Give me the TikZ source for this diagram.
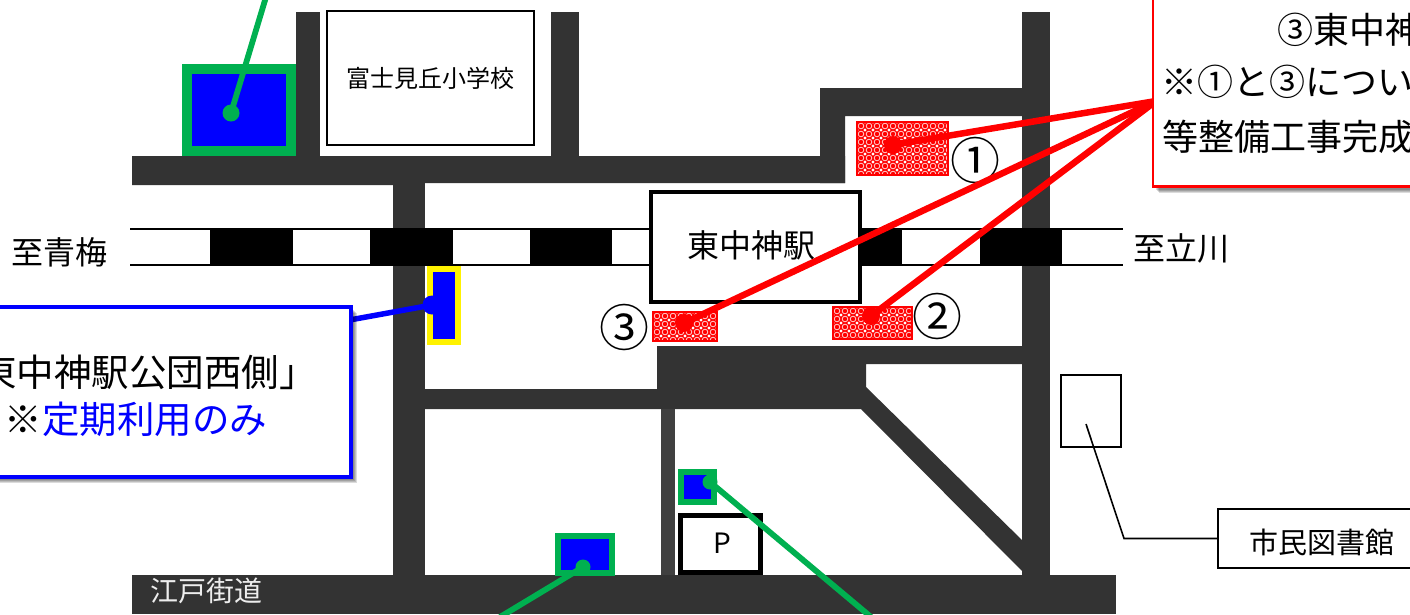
\documentclass[tikz,border=0pt]{standalone}
\usepackage{fontspec}
\setmainfont{Noto Sans CJK JP}
\usetikzlibrary{shadows}
\definecolor{road}{HTML}{333333}
\definecolor{thinroad}{HTML}{404040}
\definecolor{mapgreen}{HTML}{00B050}
\tikzset{
  x=1pt,y=-1pt,
  roadfill/.style={fill=road},
  railblock/.style={fill=black},
  dot/.style={circle,inner sep=0pt,minimum size=#1},
  greenlink/.style={draw=mapgreen,line width=5.8pt},
  redlink/.style={draw=red,line width=6.5pt},
  num/.style={font=\fontsize{50}{50}\selectfont,inner sep=0pt},
  plainbox/.style={draw=black,fill=white,inner sep=0pt},
  softlayer/.style={general shadow={shadow xshift=#1,shadow yshift=-#1,fill=black,opacity=.14}},
  callout/.style={fill=white,inner sep=0pt,softlayer=6pt,softlayer=5pt,softlayer=4pt,softlayer=3pt},
}
\newcommand{\hatched}[5]{%
  \begin{scope}
  \clip (#1,#2) rectangle (#3,#4);
  \fill[red] (#1,#2) rectangle (#3,#4);
  \foreach \px in {#1,\the\numexpr#1+8\relax,...,#3}{
    \foreach \py in {#2,\the\numexpr#2+8\relax,...,#4}{
      \draw[white!75!red,line width=.9pt] (\px+4,\py+4) circle[radius=2.8pt];
      \fill[white] (\px,\py) circle[radius=1.6pt];
    }
  }
  \end{scope}
  \node[draw=red,line width=1.2pt,inner sep=0pt,minimum width=#3pt-#1pt,minimum height=#4pt-#2pt] (#5) at ({(#1+#3)/2},{(#2+#4)/2}) {};
}
\begin{document}
\begin{tikzpicture}
\useasboundingbox (0,0) rectangle (1410,614);
\clip (0,0) rectangle (1410,614);
\fill[white] (0,0) rectangle (1410,614);
% roads
\fill[roadfill] (132,156) -- (845,156) -- (845,183) -- (425,183) -- (393,185) -- (132,185) -- cycle;
\fill[roadfill] (296,12) rectangle (320,160);
\fill[roadfill] (551,12) rectangle (579,160);
\fill[roadfill] (820,88) -- (1022,88) -- (1022,116) -- (845,116) -- (845,183) -- (820,183) -- cycle;
\fill[roadfill] (1022,12) rectangle (1050,228);
\fill[roadfill] (1022,264) rectangle (1050,576);
\fill[roadfill] (393,183) rectangle (425,230);
\fill[roadfill] (393,264) rectangle (425,576);
\fill[roadfill] (657,346) -- (1024,346) -- (1024,364) -- (866,364) -- (866,387) -- (1024,542) -- (1050,575) -- (1026,575) -- (861,409) -- (425,409) -- (425,389) -- (657,389) -- cycle;
\fill[thinroad] (661,409) rectangle (675,576);
\fill[roadfill] (132,575) rectangle (1116,614);
% railway
\draw[line width=2.5pt] (130,229) -- (1123,229);
\draw[line width=2.5pt] (130,265) -- (1123,265);
\fill[railblock] (210,228) rectangle (293,266);
\fill[railblock] (370,228) rectangle (453,266);
\fill[railblock] (530,228) rectangle (612,266);
\fill[railblock] (690,228) rectangle (772,266);
\fill[railblock] (855,228) rectangle (902,266);
\fill[railblock] (980,228) rectangle (1062,266);
% labels and buildings
\node[inner sep=0pt,font=\fontsize{32}{32}\selectfont] (omeLabel) at (60,252) {至青梅};
\node[inner sep=0pt,font=\fontsize{32}{32}\selectfont] (tachikawaLabel) at (1181.5,248) {至立川};
\node[plainbox,line width=2pt,minimum width=207pt,minimum height=134pt,font=\fontsize{24}{24}\selectfont] (school) at (430.5,78) {富士見丘小学校};
\node[plainbox,line width=4pt,minimum width=209pt,minimum height=110pt] (station) at (755.5,247) {};
\node[inner sep=0pt,font=\fontsize{32}{32}\selectfont] (stationLabel) at (751,245) {東中神駅};
\node[plainbox,line width=4.5pt,minimum width=80pt,minimum height=57pt] (parking) at (720.5,544) {};
\node[inner sep=0pt,font=\fontsize{28}{28}\selectfont] (parkingLabel) at (722,543) {P};
\node[inner sep=0pt,text=white!93!black,font=\fontsize{28}{28}\selectfont] (roadLabel) at (206,591) {江戸街道};
\node[plainbox,line width=2.2pt,minimum width=60pt,minimum height=72pt] (library) at (1091,411) {};
\node[plainbox,line width=2pt,minimum width=230pt,minimum height=59pt] (libBox) at (1333,538.5) {};
\node[inner sep=0pt,font=\fontsize{29}{29}\selectfont] (libLabel) at (1322,542) {市民図書館};
\coordinate (libTip) at (1086,424);
\coordinate (libBend) at (1124,538.5);
\draw[line width=1.6pt] (libTip) -- (libBend) -- (libBox.west);
% numbered marks
\hatched{857}{122}{948}{175}{areaOne}
\hatched{833}{307}{912}{339}{areaTwo}
\hatched{653}{312}{717}{341}{areaThree}
\node[num] (numOne) at (975,160) {①};
\node[num] (numTwo) at (937,316) {②};
\node[num] (numThree) at (624,327) {③};
% bus stops
\draw[mapgreen,line width=10pt,fill=blue] (187,69) rectangle (291,151);
\draw[mapgreen,line width=6pt,fill=blue] (680.5,472) rectangle (714,502);
\draw[mapgreen,line width=6pt,fill=blue] (558,536) rectangle (612,573);
\draw[yellow,line width=6pt,fill=blue] (430,269) rectangle (458,342);
% dots
\node[dot=17pt,fill=mapgreen] (dotA) at (231,113) {};
\node[dot=15pt,fill=mapgreen] (dotB) at (710,482) {};
\node[dot=15pt,fill=mapgreen] (dotC) at (583,567) {};
\node[dot=19pt,fill=blue] (dotBlue) at (432,305) {};
\node[dot=18pt,fill=red] (dotOne) at (893,145) {};
\node[dot=18pt,fill=red] (dotTwo) at (871,316) {};
\node[dot=18pt,fill=red] (dotThree) at (684,323) {};
% links
\coordinate (greenTopEnd) at (266,-3);
\coordinate (greenRightEnd) at (871,617);
\coordinate (greenLeftEnd) at (500,617);
\coordinate (blueTail) at (300,329);
\coordinate (redHub) at (1156,101);
\draw[greenlink] (dotA.center) -- (greenTopEnd);
\draw[greenlink] (dotB.center) -- (greenRightEnd);
\draw[greenlink] (dotC.center) -- (greenLeftEnd);
\draw[draw=blue,line width=5.5pt] (dotBlue.center) -- (blueTail);
\draw[redlink] (dotOne.center) -- (redHub);
\draw[redlink] (dotTwo.center) -- (redHub);
\draw[redlink] (dotThree.center) -- (redHub);
% callouts
\node[callout,draw=red,line width=2.5pt,minimum width=300pt,minimum height=237pt] (redCall) at (1303,68) {};
\node[anchor=west,inner sep=0pt,font=\fontsize{36}{36}\selectfont] (redA) at (1277,30) {③東中神};
\node[anchor=west,inner sep=0pt,font=\fontsize{36}{36}\selectfont] (redB) at (1161,82) {※①と③につい};
\node[anchor=west,inner sep=0pt,font=\fontsize{36}{36}\selectfont] (redC) at (1162,137) {等整備工事完成};
\node[callout,draw=blue,line width=4pt,minimum width=401pt,minimum height=170pt] (blueCall) at (150,392) {};
\node[anchor=east,inner sep=0pt,font=\fontsize{37.5}{37.5}\selectfont] (blueA) at (317,372) {東中神駅公団西側」};
\node[inner sep=0pt,font=\fontsize{37.5}{37.5}\selectfont] (blueB) at (136,419) {※\textcolor{blue}{定期利用のみ}};
\end{tikzpicture}
\end{document}
